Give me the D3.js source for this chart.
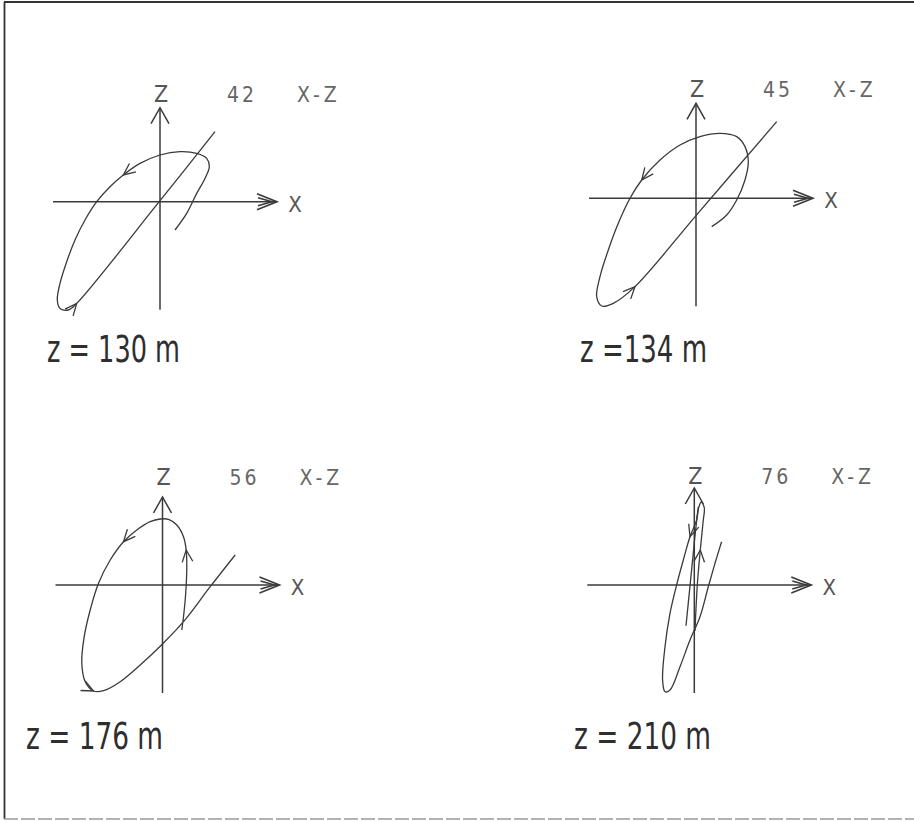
<!DOCTYPE html>
<html>
<head>
<meta charset="utf-8">
<script src="https://cdn.jsdelivr.net/npm/d3@7"></script>
<style>
  html, body { margin: 0; padding: 0; background: #fff; }
  svg { display: block; }
</style>
</head>
<body>
<div id="chart"></div>
<script>
// ---------------- DATA (x, z in plot units, origin at axis crossing) ----------------
const stationLabels = ["42", "45", "56", "76"];
const planeLabels = ["X-Z", "X-Z", "X-Z", "X-Z"];
const heightLabels = ["z = 130 m", "z =134 m", "z = 176 m", "z = 210 m"];
const axisNames = ["X", "Z"];

const hodo130 = [
  [1.5,-2.83],[2.67,-1.17],[3.67,0.83],[4.5,2.33],[4.93,3.5],[4.67,4.33],[3.67,4.83],
  [2.0,5.0],[0,4.67],[-2.0,3.83],[-3.67,2.67],[-5.0,1.5],[-6.33,0],[-7.5,-1.83],
  [-8.5,-3.83],[-9.33,-6.0],[-10.0,-8.17],[-10.27,-9.83],[-10.0,-10.67],[-9.17,-10.83],
  [-8.33,-10.17],[0,0.1],[5.5,7.0]
];
const hodo134 = [
  [1.57,-2.83],[3.07,-1.67],[4.07,-0.17],[4.9,1.83],[5.23,3.67],[4.9,5.17],[4.07,6.17],
  [2.4,6.5],[0.4,6.17],[-1.6,5.33],[-3.6,3.83],[-5.43,1.83],[-6.6,0],[-7.77,-2.5],
  [-8.77,-5.17],[-9.6,-7.83],[-9.93,-9.83],[-9.43,-10.77],[-8.27,-10.5],[-6.1,-8.83],
  [0,-1.73],[8.07,7.67]
];
const hodo176 = [
  [1.93,-4.5],[2.1,-3.17],[2.27,-1.5],[2.37,0],[2.43,1.83],[2.37,3.5],[2.1,4.83],
  [1.43,6.0],[0.6,6.57],[-0.23,6.6],[-1.23,6.33],[-2.57,5.5],[-3.9,4.33],[-5.23,2.5],
  [-6.4,0.17],[-7.23,-2.5],[-7.83,-5.17],[-8.07,-7.83],[-7.73,-9.67],[-6.9,-10.6],
  [-5.9,-10.57],[-4.23,-9.67],[-2.23,-8.0],[0,-5.9],[2.1,-3.67],[4.77,-0.17],[7.27,3.0]
];
const hodo210 = [
  [0.4,7.83],[0.23,6.5],[-0.43,4.83],[-1.1,2.5],[-1.77,0],[-2.43,-2.83],[-2.93,-6.17],
  [-3.17,-9.5],[-2.93,-10.67],[-2.43,-10.5],[-1.43,-8.17],[-0.43,-5.5],[0.57,-3.17],
  [1.4,-0.17],[2.07,2.17],[2.73,4.33]
];
const hodo210inner = [
  [0.07,-4.6],[0.3,0],[0.6,3.5],[0.9,6.5],[1.0,7.7],[0.7,8.3],[0.4,7.6],
  [0.17,5.83],[-0.37,0.5],[-0.83,-4.07]
];
// arrow marks: index of the point where a direction arrow sits
const arrows130 = [10, 20];
const arrows134 = [11, 19];
const arrows176 = [5, 12, 19];
const arrows210 = [2];
const arrows210inner = [2];

// axis extents in plot units
const xMin = -10.7, xMax = 11.7, zMin = -10.8;
const zMaxes = [9.4, 9.5, 8.8, 9.7];

// ---------------- LAYOUT ----------------
const W = 914, H = 822;
const unitPx = 10;
const origins = [[160, 201.7], [696, 198.3], [162.5, 585], [694.3, 585]];
const zLabelBase = [102, 97, 485, 484];
const heightPos = [[47, 362, 133], [580, 362, 127], [26, 749, 137], [574, 749, 137]];

const panels = [
  { series: [{ pts: hodo130, arrows: arrows130 }] },
  { series: [{ pts: hodo134, arrows: arrows134 }] },
  { series: [{ pts: hodo176, arrows: arrows176 }] },
  { series: [{ pts: hodo210, arrows: arrows210 }, { pts: hodo210inner, arrows: arrows210inner }] }
];

const ink = "#3a3a3a";
const thinFont = "DejaVu Sans Condensed, DejaVu Sans";
const svg = d3.select("#chart").append("svg").attr("width", W).attr("height", H);
svg.append("rect").attr("width", W).attr("height", H).attr("fill", "#fff");

// frame
svg.append("line").attr("x1", 4.5).attr("x2", 4.5).attr("y1", 2).attr("y2", 819)
  .attr("stroke", "#333").attr("stroke-width", 1.8);
svg.append("line").attr("x1", 4).attr("x2", W).attr("y1", 2).attr("y2", 2)
  .attr("stroke", "#333").attr("stroke-width", 1.8);
svg.append("line").attr("x1", 4).attr("x2", W).attr("y1", 819).attr("y2", 819)
  .attr("stroke", "#9a9a9a").attr("stroke-width", 1.5).attr("stroke-dasharray", "14 3");

panels.forEach((p, i) => {
  const [ox, oy] = origins[i];
  const x = d3.scaleLinear().domain([0, 1]).range([ox, ox + unitPx]);
  const z = d3.scaleLinear().domain([0, 1]).range([oy, oy - unitPx]);
  const g = svg.append("g");

  // axes
  const xl = x(xMin), xr = x(xMax), zb = z(zMin), zt = z(zMaxes[i]);
  g.append("line").attr("x1", xl).attr("x2", xr).attr("y1", z(0)).attr("y2", z(0))
    .attr("stroke", ink).attr("stroke-width", 1.5);
  g.append("line").attr("x1", x(0)).attr("x2", x(0)).attr("y1", zb).attr("y2", zt)
    .attr("stroke", ink).attr("stroke-width", 1.5);
  // x arrowhead (double chevron)
  g.append("path")
    .attr("d", `M${xr - 20},${oy - 8}L${xr},${oy}L${xr - 20},${oy + 8}M${xr - 19},${oy - 4}L${xr - 5},${oy}L${xr - 19},${oy + 4}`)
    .attr("fill", "none").attr("stroke", ink).attr("stroke-width", 1.6);
  // z arrowhead
  g.append("path")
    .attr("d", `M${ox - 9},${zt + 16}L${ox},${zt}L${ox + 9},${zt + 16}`)
    .attr("fill", "none").attr("stroke", ink).attr("stroke-width", 1.5);

  // axis names
  g.append("text").attr("x", xr + 18).attr("y", oy + 10).attr("text-anchor", "middle")
    .attr("font-family", thinFont).attr("font-weight", 300).attr("font-size", 22)
    .attr("fill", "#555").text(axisNames[0]);
  g.append("text").attr("x", ox + 1).attr("y", zLabelBase[i]).attr("text-anchor", "middle")
    .attr("font-family", thinFont).attr("font-weight", 300).attr("font-size", 23)
    .attr("fill", "#555").text(axisNames[1]);
  // station number & plane
  g.append("text").attr("x", ox + 82).attr("y", zLabelBase[i]).attr("text-anchor", "middle")
    .attr("font-family", thinFont).attr("font-weight", 300).attr("font-size", 21)
    .attr("letter-spacing", 3).attr("fill", "#666").text(stationLabels[i]);
  g.append("text").attr("x", ox + 137).attr("y", zLabelBase[i]).attr("text-anchor", "start")
    .attr("font-family", thinFont).attr("font-weight", 300).attr("font-size", 21)
    .attr("letter-spacing", 4).attr("fill", "#666").text(planeLabels[i]);

  // height label
  const [hx, hy, hw] = heightPos[i];
  g.append("text").attr("x", hx).attr("y", hy)
    .attr("font-family", thinFont).attr("font-size", 37)
    .attr("textLength", hw).attr("lengthAdjust", "spacingAndGlyphs")
    .attr("fill", "#2e2e2e").text(heightLabels[i]);

  // hodograph curves
  const line = d3.line().x(d => x(d[0])).y(d => z(d[1])).curve(d3.curveCatmullRom.alpha(0.5));
  p.series.forEach(s => {
    g.append("path").attr("d", line(s.pts)).attr("fill", "none")
      .attr("stroke", ink).attr("stroke-width", 1.3);
    s.arrows.forEach(k => {
      const a = s.pts[k - 1], c = s.pts[k + 1], b = s.pts[k];
      const dx = x(c[0]) - x(a[0]), dy = z(c[1]) - z(a[1]);
      const ang = Math.atan2(dy, dx);
      const tx = x(b[0]), ty = z(b[1]);
      const L = 13, spread = 0.42;
      const p1 = [tx - L * Math.cos(ang - spread), ty - L * Math.sin(ang - spread)];
      const p2 = [tx - L * Math.cos(ang + spread), ty - L * Math.sin(ang + spread)];
      g.append("path").attr("d", `M${p1[0]},${p1[1]}L${tx},${ty}L${p2[0]},${p2[1]}`)
        .attr("fill", "none").attr("stroke", ink).attr("stroke-width", 1.3);
    });
  });
});
</script>
</body>
</html>
